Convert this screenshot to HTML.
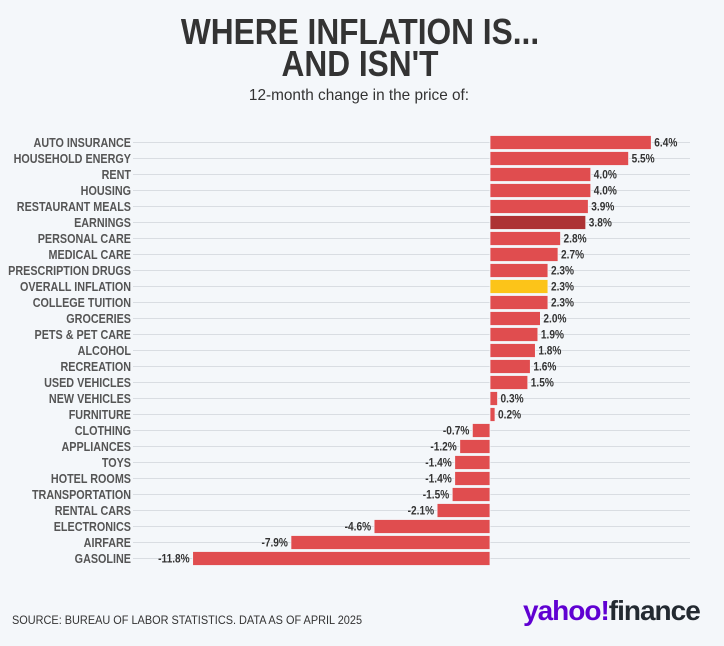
<!DOCTYPE html>
<html><head><meta charset="utf-8"><style>
body{margin:0;background:#f4f7fa;}
svg{display:block}
.t{font-family:"Liberation Sans",sans-serif;font-weight:bold}
</style></head><body>
<svg width="724" height="646" xmlns="http://www.w3.org/2000/svg">
<rect width="724" height="646" fill="#f4f7fa"/>
<text class="t" transform="translate(360,44) scale(0.88,1)" text-anchor="middle" font-size="36" fill="#333">WHERE INFLATION IS...</text>
<text class="t" transform="translate(360,76) scale(0.88,1)" text-anchor="middle" font-size="36" fill="#333">AND ISN'T</text>
<text transform="translate(359,100) scale(0.96,1)" text-anchor="middle" font-size="16" fill="#333" font-family="Liberation Sans, sans-serif">12-month change in the price of:</text>
<g id="rows"></g>
<text transform="translate(12,624) scale(0.91,1)" font-size="12" fill="#333" font-family="Liberation Sans, sans-serif">SOURCE: BUREAU OF LABOR STATISTICS. DATA AS OF APRIL 2025</text>
<text x="523" y="620" font-size="28" font-weight="bold" font-family="Liberation Sans, sans-serif" letter-spacing="-1"><tspan fill="#6001d2">yahoo!</tspan><tspan fill="#232a31">finance</tspan></text>
</svg>
<script>
var d=[["AUTO INSURANCE",6.4],["HOUSEHOLD ENERGY",5.5],["RENT",4.0],["HOUSING",4.0],["RESTAURANT MEALS",3.9],["EARNINGS",3.8],["PERSONAL CARE",2.8],["MEDICAL CARE",2.7],["PRESCRIPTION DRUGS",2.3],["OVERALL INFLATION",2.3],["COLLEGE TUITION",2.3],["GROCERIES",2.0],["PETS & PET CARE",1.9],["ALCOHOL",1.8],["RECREATION",1.6],["USED VEHICLES",1.5],["NEW VEHICLES",0.3],["FURNITURE",0.2],["CLOTHING",-0.7],["APPLIANCES",-1.2],["TOYS",-1.4],["HOTEL ROOMS",-1.4],["TRANSPORTATION",-1.5],["RENTAL CARS",-2.1],["ELECTRONICS",-4.6],["AIRFARE",-7.9],["GASOLINE",-11.8]];
var s="",z=490,k=25.2;
d.forEach(function(r,i){var c=142.5+16*i,v=r[1],w=Math.abs(v)*k,x=v>=0?z:z-w;
var col=r[0]=="EARNINGS"?"#ad3234":r[0]=="OVERALL INFLATION"?"#fcc419":"#e04d4f";
s+='<line x1="133" x2="690" y1="'+c+'" y2="'+c+'" stroke="#d9dde2" stroke-width="1"/>';
s+='<text class="t" transform="translate(131,'+(c+4.5)+') scale(0.83,1)" text-anchor="end" font-size="13" fill="#555">'+r[0].replace("&","&amp;")+'</text>';
s+='<rect x="'+x+'" y="'+(c-7)+'" width="'+w+'" height="14" fill="'+col+'" stroke="#f4f7fa" stroke-width="0.8"/>';
var lab=v.toFixed(1)+"%";
if(v>=0)s+='<text class="t" transform="translate('+(z+w+3)+','+(c+4)+') scale(0.88,1)" font-size="11.5" fill="#333">'+lab+'</text>';
else s+='<text class="t" transform="translate('+(x-3)+','+(c+4)+') scale(0.88,1)" text-anchor="end" font-size="11.5" fill="#333">'+lab+'</text>';
});
document.getElementById("rows").innerHTML=s;
</script>
</body></html>
